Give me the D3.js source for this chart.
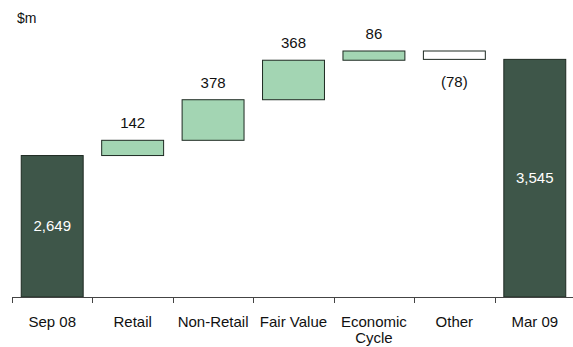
<!DOCTYPE html>
<html>
<head>
<meta charset="utf-8">
<script src="https://cdn.jsdelivr.net/npm/d3@7"></script>
<style>
  html, body { margin: 0; padding: 0; background: #fff; }
  svg { display: block; font-family: "Liberation Sans", Arial, sans-serif; }
</style>
</head>
<body>
<svg id="chart" width="573" height="347"></svg>
<script>
// Bad-debt provision bridge, Sep 08 to Mar 09 ($m)
const categories = ["Sep 08", "Retail", "Non-Retail", "Fair Value", "Economic\nCycle", "Other", "Mar 09"];
const values = [2649, 142, 378, 368, 86, -78, 3545];
const kinds = ["total", "step", "step", "step", "step", "step", "total"];
const valueLabels = ["2,649", "142", "378", "368", "86", "(78)", "3,545"];
const unitLabel = "$m";
const axisFloor = 1331; // value axis is truncated: bars start from this level

const svg = d3.select("#chart");
const W = 573, H = 347;
const margin = { left: 12, right: -2, top: 51, bottom: 50 };

// Build the floating segments
let running = 0;
const rows = categories.map((c, i) => {
  let lo, hi;
  if (kinds[i] === "total") {
    lo = axisFloor; hi = values[i]; running = values[i];
  } else {
    const start = running;
    running += values[i];
    lo = Math.min(start, running); hi = Math.max(start, running);
  }
  return { cat: c, value: values[i], kind: kinds[i], label: valueLabels[i], lo, hi };
});

const x = d3.scaleBand()
  .domain(categories)
  .range([margin.left, W - margin.right])
  .paddingInner(0.23)
  .paddingOuter(0.115);

const maxTop = d3.max(rows, d => d.hi);
const y = d3.scaleLinear()
  .domain([axisFloor, maxTop])
  .range([H - margin.bottom, margin.top]);

const fillFor = d => d.kind === "total" ? "#3e5649" : (d.value >= 0 ? "#a3d5b3" : "#ffffff");

svg.selectAll("rect.bar")
  .data(rows)
  .join("rect")
  .attr("class", "bar")
  .attr("x", d => x(d.cat))
  .attr("width", x.bandwidth())
  .attr("y", d => y(d.hi))
  .attr("height", d => y(d.lo) - y(d.hi))
  .attr("fill", fillFor)
  .attr("stroke", "#1e2a22")
  .attr("stroke-width", 1);

// Category axis with ticks between categories
const axisY = y(axisFloor);
const step = x.step();
const bounds = d3.range(categories.length + 1).map(i => margin.left + i * step);
const axisG = svg.append("g");
axisG.append("line")
  .attr("x1", bounds[0]).attr("x2", W)
  .attr("y1", axisY + 0.5).attr("y2", axisY + 0.5)
  .attr("stroke", "#444").attr("stroke-width", 1);
axisG.selectAll("line.tick")
  .data(bounds)
  .join("line")
  .attr("class", "tick")
  .attr("x1", d => Math.round(d) + 0.5).attr("x2", d => Math.round(d) + 0.5)
  .attr("y1", axisY).attr("y2", axisY + 6)
  .attr("stroke", "#444").attr("stroke-width", 1);

// Category labels (multi-line where needed)
svg.selectAll("text.cat")
  .data(rows)
  .join("text")
  .attr("class", "cat")
  .attr("text-anchor", "middle")
  .attr("font-size", 15)
  .attr("fill", "#111")
  .each(function(d) {
    const lines = d.cat.split("\n");
    const t = d3.select(this);
    lines.forEach((ln, k) => {
      t.append("tspan")
        .attr("x", x(d.cat) + x.bandwidth() / 2)
        .attr("y", axisY + 30 + k * 16)
        .text(ln);
    });
  });

// Value labels
svg.selectAll("text.val")
  .data(rows)
  .join("text")
  .attr("class", "val")
  .attr("text-anchor", "middle")
  .attr("font-size", 15)
  .attr("x", d => x(d.cat) + x.bandwidth() / 2)
  .attr("y", d => {
    if (d.kind === "total") return (y(d.hi) + y(d.lo)) / 2 + 5;
    if (d.value >= 0) return y(d.hi) - 12;
    return y(d.lo) + 28;
  })
  .attr("fill", d => d.kind === "total" ? "#ffffff" : "#111")
  .text(d => d.label);

// Unit label
svg.append("text")
  .attr("x", 17).attr("y", 23)
  .attr("font-size", 14)
  .attr("fill", "#111")
  .text(unitLabel);
</script>
</body>
</html>
